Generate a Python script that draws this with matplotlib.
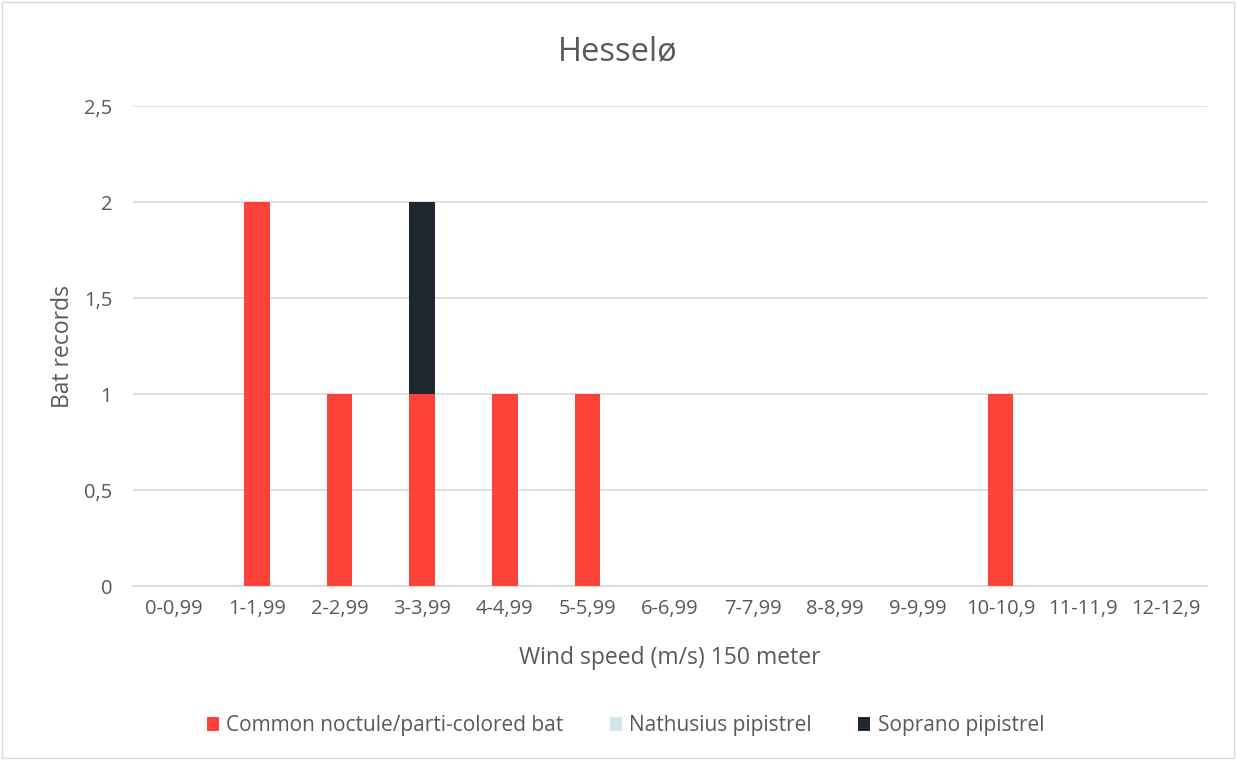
import numpy as np
import matplotlib.pyplot as plt
from matplotlib.patches import Rectangle

plt.rcParams['font.family'] = ['Open Sans', 'DejaVu Sans']

# ---- data ----
wind_bins = ['0-0,99', '1-1,99', '2-2,99', '3-3,99', '4-4,99', '5-5,99', '6-6,99',
             '7-7,99', '8-8,99', '9-9,99', '10-10,9', '11-11,9', '12-12,9']
common_noctule = [0, 2, 1, 1, 1, 1, 0, 0, 0, 0, 1, 0, 0]
nathusius = [0, 0, 0, 0, 0, 0, 0, 0, 0, 0, 0, 0, 0]
soprano = [0, 0, 0, 1, 0, 0, 0, 0, 0, 0, 0, 0, 0]

txt = '#595959'
grid_c = '#D9D9D9'

fig = plt.figure(figsize=(12.36, 7.6), dpi=100)
ax = fig.add_axes([0.1076, 0.2289, 0.8689, 0.6316])

x = np.arange(len(wind_bins))
w = 0.31
c1 = np.array(common_noctule)
c2 = np.array(nathusius)
c3 = np.array(soprano)
ax.bar(x, c1, w, color='#FD4239', label='Common noctule/parti-colored bat', zorder=3)
ax.bar(x, c2, w, bottom=c1, color='#D6E4EE', label='Nathusius pipistrel', zorder=3)
ax.bar(x, c3, w, bottom=c1 + c2, color='#1F2730', label='Soprano pipistrel', zorder=3)

ax.set_xlim(-0.5, len(wind_bins) - 0.5)
ax.set_ylim(0, 2.5)
ax.set_yticks([0, 0.5, 1, 1.5, 2, 2.5])
ax.set_yticklabels(['0', '0,5', '1', '1,5', '2', '2,5'])
ax.set_xticks(x)
ax.set_xticklabels(wind_bins)
ax.tick_params(axis='x', length=0, labelsize=14.5, colors=txt, pad=9)
ax.tick_params(axis='y', length=0, labelsize=14.5, colors=txt, pad=15)
ax.yaxis.grid(True, color=grid_c, linewidth=1.2, zorder=0)
for s in ['top', 'right', 'left']:
    ax.spines[s].set_visible(False)
ax.spines['bottom'].set_color(grid_c)
ax.spines['bottom'].set_linewidth(1.2)

ax.set_xlabel('Wind speed (m/s) 150 meter', fontsize=16.5, color=txt, labelpad=20)
ax.set_ylabel('Bat records', fontsize=16.5, color=txt, labelpad=6)
fig.text(0.5, 0.932, 'Hesselø', ha='center', va='center', fontsize=23.5, color=txt)

fig.legend(loc='center', bbox_to_anchor=(0.506, 0.045), ncol=3, frameon=False,
           fontsize=15, labelcolor=txt, handlelength=0.6, handleheight=0.6,
           handletextpad=0.35, columnspacing=2.2)

# outer chart border
fig.patches.append(Rectangle((0.002, 0.002), 0.996, 0.996, transform=fig.transFigure,
                             fill=False, edgecolor=grid_c, linewidth=1))

fig.savefig('out.png', dpi=100)
